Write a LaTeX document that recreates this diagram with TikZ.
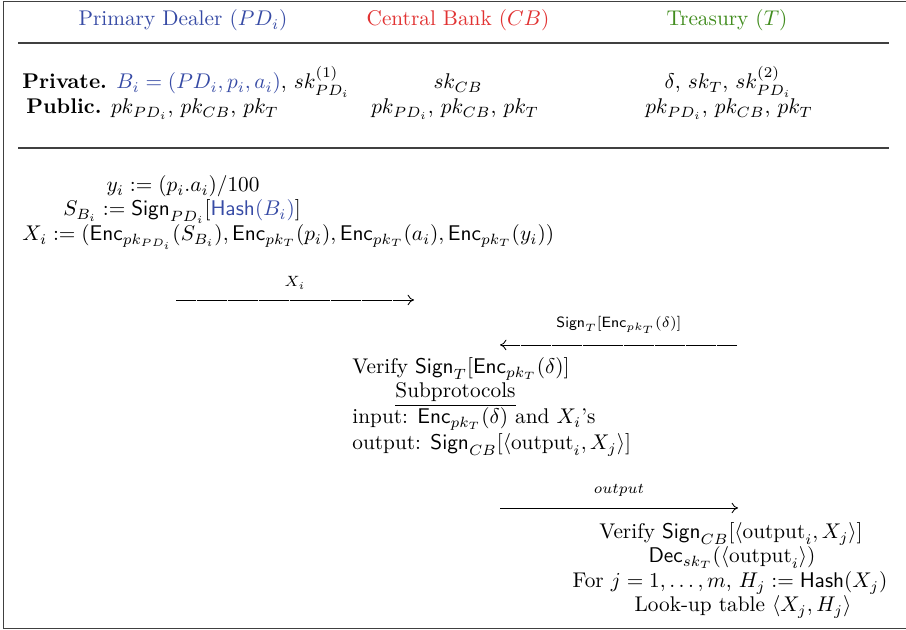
\documentclass[tikz,border=0pt]{standalone}
\usepackage{amsmath}
\usetikzlibrary{arrows.meta}
\definecolor{pdblue}{RGB}{55,75,165}
\definecolor{cbred}{RGB}{225,50,50}
\definecolor{tgreen}{RGB}{65,140,30}
\begin{document}
\begin{tikzpicture}[x=0.47pt,y=-0.47pt,
  txt/.style={inner sep=0pt,anchor=base},
  txtw/.style={inner sep=0pt,anchor=base west},
  lbl/.style={inner sep=0pt,anchor=base,font=\scriptsize},
  msg/.style={-{To[length=3pt,width=5pt]}, line width=0.4pt},
  dmsg/.style={msg, dash pattern=on 4.7pt off 0.15pt},
  rulel/.style={line width=0.7pt, black!75}]
\useasboundingbox (0,0) rectangle (906,630);
\draw[rulel] (906,1.5) -- (3.5,1.5) -- (3.5,628.5) -- (906,628.5);
% headers
\node[txt, text=pdblue] (hpd) at (183,26) {Primary Dealer ($PD_i$)};
\node[txt, text=cbred] (hcb) at (458,26) {Central Bank ($CB$)};
\node[txt, text=tgreen] (ht) at (727,26) {Treasury ($T$)};
\draw[rulel] (18,43) -- (889,43);
% keys
\node[txtw] (pdpriv) at (22,89) {\textbf{Private.} \textcolor{pdblue}{$B_i = (PD_i, p_i, a_i)$}, $sk^{(1)}_{PD_i}$};
\node[txtw] (pdpub) at (26,114) {\textbf{Public.} $pk_{PD_i}$, $pk_{CB}$, $pk_T$};
\node[txt] (cbpriv) at (458,89) {$sk_{CB}$};
\node[txt] (cbpub) at (455,114) {$pk_{PD_i}$, $pk_{CB}$, $pk_T$};
\node[txt] (tpriv) at (728,89) {$\delta$, $sk_T$, $sk^{(2)}_{PD_i}$};
\node[txt] (tpub) at (729,114) {$pk_{PD_i}$, $pk_{CB}$, $pk_T$};
\draw[rulel] (18,148) -- (889,148);
% PD computations
\node[txt] (yi) at (183,192) {$y_i := (p_i.a_i)/100$};
\node[txt] (sbi) at (182,216) {$S_{B_i} := \mathsf{Sign}_{PD_i}[\textcolor{pdblue}{\mathsf{Hash}(B_i)}]$};
\node[txtw] (xi) at (22,241) {$X_i := (\mathsf{Enc}_{pk_{PD_i}}(S_{B_i}), \mathsf{Enc}_{pk_T}(p_i), \mathsf{Enc}_{pk_T}(a_i), \mathsf{Enc}_{pk_T}(y_i))$};
% message X_i
\coordinate (m1s) at (176,300);
\coordinate (m1e) at (414,300);
\draw[dmsg] (m1s) -- (m1e);
\node[lbl] (m1l) at (295,287) {$X_i$};
% message Sign_T
\coordinate (m2s) at (737,345);
\coordinate (m2e) at (500,345);
\draw[dmsg] (m2s) -- (m2e);
\node[lbl] (m2l) at (619,328) {$\mathsf{Sign}_T[\mathsf{Enc}_{pk_T}(\delta)]$};
% CB block
\node[txtw] (cbv) at (352,374) {Verify $\mathsf{Sign}_T[\mathsf{Enc}_{pk_T}(\delta)]$};
\node[txtw] (cbs) at (395,398) {\underline{Subprotocols}};
\node[txtw] (cbi) at (352,424) {input: $\mathsf{Enc}_{pk_T}(\delta)$ and $X_i$'s};
\node[txtw] (cbo) at (352,450) {output: $\mathsf{Sign}_{CB}[\langle \mathrm{output}_i, X_j\rangle]$};
% message output
\coordinate (m3s) at (500,508);
\coordinate (m3e) at (738,508);
\draw[msg] (m3s) -- (m3e);
\node[lbl] (m3l) at (619,494) {$output$};
% T block
\node[txt] (tv) at (731,539) {Verify $\mathsf{Sign}_{CB}[\langle \mathrm{output}_i, X_j\rangle]$};
\node[txt] (td) at (732,563) {$\mathsf{Dec}_{sk_T}(\langle \mathrm{output}_i\rangle)$};
\node[txt] (tf) at (730,588) {For $j = 1, \ldots, m$, $H_j := \mathsf{Hash}(X_j)$};
\node[txt] (tl) at (743,612) {Look-up table $\langle X_j, H_j\rangle$};
\end{tikzpicture}
\end{document}
